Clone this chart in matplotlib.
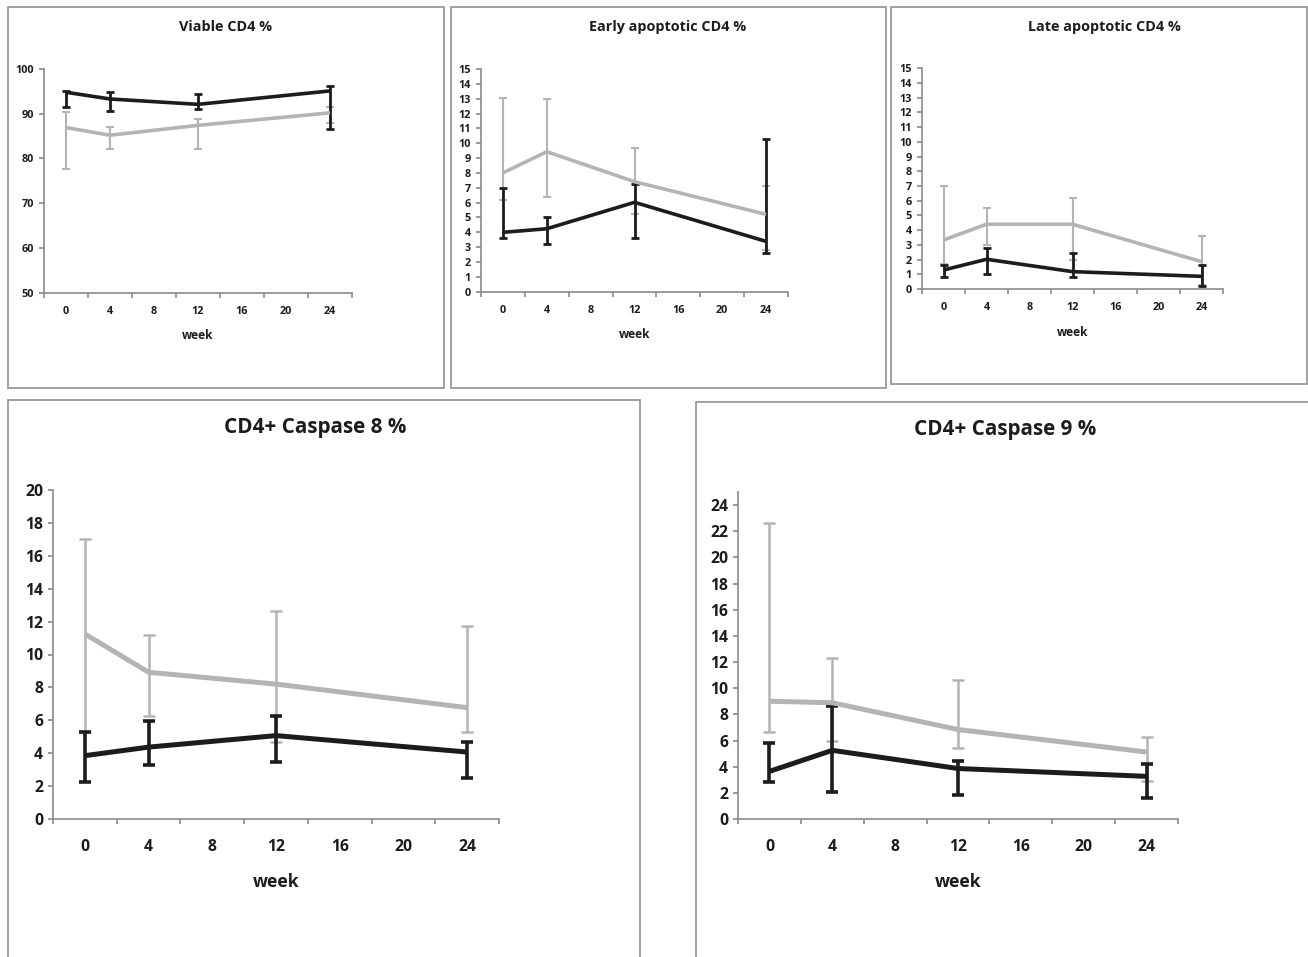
import matplotlib
matplotlib.use("Agg")
import matplotlib.pyplot as plt
from matplotlib.patches import Rectangle
import numpy as np

# ---------------- data ----------------
categories = ["0", "4", "8", "12", "16", "20", "24"]
weeks = [0, 4, 12, 24]

titles = ["Viable CD4 %", "Early apoptotic CD4 %", "Late apoptotic CD4 %",
          "CD4+ Caspase 8 %", "CD4+ Caspase 9 %"]

# black series: mean, lower end, upper end of error bar
viable_black = [94.8, 93.3, 92.1, 95.1]
viable_black_lo = [91.6, 90.6, 91.0, 86.7]
viable_black_hi = [95.1, 94.9, 94.5, 96.1]
viable_gray = [86.9, 85.2, 87.4, 90.2]
viable_gray_lo = [77.6, 82.1, 82.1, 88.0]
viable_gray_hi = [90.4, 87.1, 88.8, 91.5]

early_black = [4.0, 4.24, 6.02, 3.39]
early_black_lo = [3.6, 3.23, 3.6, 2.63]
early_black_hi = [7.0, 5.0, 7.23, 10.26]
early_gray = [8.0, 9.43, 7.41, 5.21]
early_gray_lo = [6.2, 6.4, 5.2, 2.8]
early_gray_hi = [13.07, 12.96, 9.66, 7.14]

late_black = [1.29, 2.02, 1.18, 0.86]
late_black_lo = [0.82, 1.02, 0.82, 0.23]
late_black_hi = [1.61, 2.76, 2.42, 1.61]
late_gray = [3.33, 4.4, 4.4, 1.86]
late_gray_lo = [1.7, 3.0, 2.0, 0.3]
late_gray_hi = [7.0, 5.48, 6.19, 3.63]

casp8_black = [3.85, 4.37, 5.07, 4.07]
casp8_black_lo = [2.26, 3.29, 3.46, 2.48]
casp8_black_hi = [5.29, 5.94, 6.25, 4.68]
casp8_gray = [11.25, 8.92, 8.2, 6.77]
casp8_gray_lo = [5.3, 6.27, 4.68, 5.31]
casp8_gray_hi = [17.02, 11.2, 12.64, 11.75]

casp9_black = [3.64, 5.25, 3.86, 3.26]
casp9_black_lo = [2.85, 2.05, 1.83, 1.61]
casp9_black_hi = [5.83, 8.65, 4.41, 4.24]
casp9_gray = [9.0, 8.89, 6.84, 5.12]
casp9_gray_lo = [6.68, 5.97, 5.39, 2.87]
casp9_gray_hi = [22.6, 12.29, 10.62, 6.24]

# ---------------- figure ----------------
W, H = 1308, 957
DPI = 100
fig = plt.figure(figsize=(W / DPI, H / DPI), dpi=DPI)
fig.patch.set_facecolor("white")
FONT = "Open Sans"
BLACK = "#1c1c1c"
GRAY = "#b4b4b4"
AXC = "#8a8a8a"


def px(v):
    return v * 72.0 / DPI


def frame(x0, y0, x1, y1):
    fig.patches.append(Rectangle((x0 / W, 1 - y1 / H), (x1 - x0) / W, (y1 - y0) / H,
                                 transform=fig.transFigure, fill=False,
                                 edgecolor="#9a9a9a", linewidth=1.3))


def panel(box, title, title_xy, title_fs, ylim, yticks, series, small,
          xlabel_off, tick_fs, xl_fs):
    l, r, t, b = box
    ax = fig.add_axes([l / W, 1 - b / H, (r - l) / W, (b - t) / H])
    xpos = [categories.index(str(w)) for w in weeks]
    lw_line = 2.6 if small else 3.6
    for (mean, lo, hi, color, elw) in series:
        mean = np.array(mean)
        err = [mean - np.array(lo), np.array(hi) - mean]
        ax.errorbar(xpos, mean, yerr=err, color=color, linewidth=lw_line,
                    elinewidth=elw, capsize=3 if small else 4, capthick=elw,
                    solid_capstyle="butt")
    ax.set_xlim(-0.5, 6.5)
    ax.set_ylim(*ylim)
    ax.set_yticks(yticks)
    ax.set_yticklabels([str(v) for v in yticks])
    ax.set_xticks(range(len(categories)))
    ax.set_xticklabels(categories)
    ax.set_xticks(np.arange(-0.5, 7.0, 1.0), minor=True)
    ax.tick_params(axis="x", which="major", length=0, pad=px(13 if small else 20),
                   labelsize=tick_fs, colors=BLACK)
    ax.tick_params(axis="x", which="minor", length=px(5), width=1.2, color=AXC,
                   direction="out")
    ax.tick_params(axis="y", length=px(5), width=1.2, color=AXC, pad=px(5),
                   labelsize=tick_fs, labelcolor=BLACK)
    for lab in ax.get_xticklabels() + ax.get_yticklabels():
        lab.set_fontweight("bold")
        lab.set_fontfamily(FONT)
    for s in ["top", "right"]:
        ax.spines[s].set_visible(False)
    for s in ["left", "bottom"]:
        ax.spines[s].set_color(AXC)
        ax.spines[s].set_linewidth(1.2)
    ax.set_facecolor("none")
    ax.patch.set_alpha(0)
    fig.text(title_xy[0] / W, 1 - title_xy[1] / H, title, ha="center", va="center",
             fontsize=title_fs, fontweight="bold", family=FONT, color=BLACK)
    fig.text(((l + r) / 2) / W, 1 - (b + xlabel_off) / H, "week", ha="center",
             va="center", fontsize=xl_fs, fontweight="bold", family=FONT, color=BLACK)
    return ax


# frames
frame(8, 7, 444, 388)
frame(451, 7, 886, 388)
frame(891, 7, 1307, 384)
frame(8, 400, 640, 960)
frame(696, 402, 1310, 960)

small_fs = 7.8
panel((44, 352, 69, 292.7), titles[0], (226, 27), 10.4, (50, 100),
      [50, 60, 70, 80, 90, 100],
      [(viable_gray, viable_gray_lo, viable_gray_hi, GRAY, 1.5),
       (viable_black, viable_black_lo, viable_black_hi, BLACK, 2.0)],
      True, 43, small_fs, 8.6)
panel((481, 788, 69, 291.7), titles[1], (668, 27), 10.4, (0, 15),
      list(range(0, 16)),
      [(early_gray, early_gray_lo, early_gray_hi, GRAY, 1.5),
       (early_black, early_black_lo, early_black_hi, BLACK, 2.0)],
      True, 43, small_fs, 8.6)
panel((922, 1223, 68.3, 289), titles[2], (1104, 27), 10.4, (0, 15),
      list(range(0, 16)),
      [(late_gray, late_gray_lo, late_gray_hi, GRAY, 1.5),
       (late_black, late_black_lo, late_black_hi, BLACK, 2.0)],
      True, 43, small_fs, 8.6)
panel((53, 499, 490, 819), titles[3], (315, 428), 14.9, (0, 20),
      list(range(0, 21, 2)),
      [(casp8_gray, casp8_gray_lo, casp8_gray_hi, GRAY, 1.8),
       (casp8_black, casp8_black_lo, casp8_black_hi, BLACK, 2.6)],
      False, 63, 11.3, 12.6)
panel((738, 1178, 492, 819), titles[4], (1005, 430), 14.9, (0, 25),
      list(range(0, 25, 2)),
      [(casp9_gray, casp9_gray_lo, casp9_gray_hi, GRAY, 1.8),
       (casp9_black, casp9_black_lo, casp9_black_hi, BLACK, 2.6)],
      False, 63, 11.3, 12.6)

fig.savefig("out.png", dpi=DPI, facecolor="white")
